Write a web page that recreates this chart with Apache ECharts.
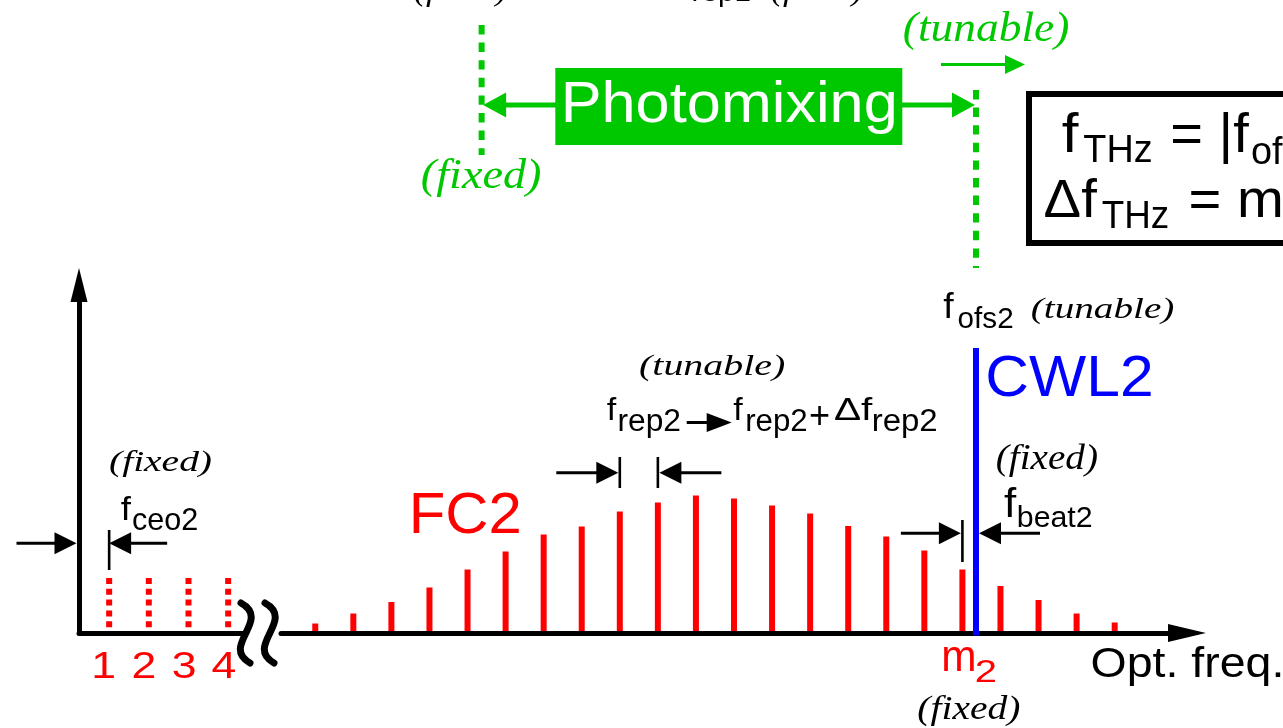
<!DOCTYPE html>
<html><head><meta charset="utf-8">
<script src="https://cdn.jsdelivr.net/npm/echarts@6/dist/echarts.min.js"></script>
<style>html,body{margin:0;padding:0;background:#fff;overflow:hidden}#c{width:1283px;height:728px}</style>
</head><body><div id="c"></div>
<script>
// ---------------- data (frequency in units of f_rep2, power in a.u.) ----------------
const lowModeLabels = ['1', '2', '3', '4'];
const lowModeFreq = [0.76, 1.76, 2.76, 3.76];          // first line sits at f_ceo2
const lowModePower = [11, 11, 11, 11];
const combModeOffset = [-17, -16, -15, -14, -13, -12, -11, -10, -9, -8, -7, -6, -5, -4, -3, -2, -1, 0, 1, 2, 3, 4]; // n - m2
const combPower = [1.9, 3.9, 6.2, 9.1, 12.7, 16.3, 19.7, 21.3, 24.3, 26.1, 27.5, 26.9, 25.5, 23.9, 21.4, 19.3, 16.5, 12.7, 9.4, 6.6, 3.9, 2.1];
const fCeo2 = 0.76;
const fBeat2 = 0.357;            // CWL2 offset from mode m2
const fOfs2 = fBeat2;            // CWL2 frequency (relative to m2)
const fOfs1 = -12.63;            // CWL1 frequency (relative to m2)
const cwl2Power = [57];
const repArrowModes = [-9, -8];
const beatArrowTargets = [0, fBeat2];
const ceoArrowTargets = [0, fCeo2];
const mainModeLabels = [{ mode: 0, text: 'm', sub: '2' }];
const lowAxisRange = [0, 4.134];
const mainAxisRange = [-17.9, 5.9];
const lowPowerRange = [0, 69.6];
const mainPowerRange = [0, 126.6];

// ---------------- styles / layout ----------------
const RED = '#ff0000', BLUE = '#0000ff', GREEN = '#00c800', BLACK = '#000000';
const SANS = "'Liberation Sans', Arial, sans-serif";
const SERIF = "'Liberation Serif', 'Times New Roman', serif";
const F_SANS = '40px ' + SANS;
const F_ITAL = 'italic 40px ' + SERIF;

const mctx = document.createElement('canvas').getContext('2d');
function ink(text, font) {
  mctx.font = font; mctx.textBaseline = 'middle'; mctx.textAlign = 'left';
  const m = mctx.measureText(text);
  return { l: m.actualBoundingBoxLeft, r: m.actualBoundingBoxRight, a: m.actualBoundingBoxAscent, d: m.actualBoundingBoxDescent };
}
function textEl(text, font, fill, x, y, sx, sy) {
  return { type: 'text', x: x, y: y, scaleX: sx, scaleY: sy, z: 100, z2: 20, silent: true,
    style: { text: text, font: font, fill: fill, align: 'left', verticalAlign: 'middle', textAlign: 'left', textVerticalAlign: 'middle' } };
}
function fitBox(text, box, font, fill) {
  const m = ink(text, font);
  const sx = (box[2] - box[0]) / (m.l + m.r), sy = (box[3] - box[1]) / (m.a + m.d);
  return textEl(text, font, fill, box[0] + m.l * sx, box[1] + m.a * sy, sx, sy);
}
function fitH(text, left, top, bottom, font, fill, aspect) {
  const m = ink(text, font);
  const sy = (bottom - top) / (m.a + m.d), sx = sy * aspect;
  return textEl(text, font, fill, left + m.l * sx, top + m.a * sy, sx, sy);
}
function fitCenter(text, cx, top, bottom, font, fill, aspect) {
  const m = ink(text, font);
  const sy = (bottom - top) / (m.a + m.d), sx = sy * aspect;
  return textEl(text, font, fill, cx - (m.r - m.l) / 2 * sx, top + m.a * sy, sx, sy);
}
function placeTop(text, left, top, font, fill, sx, sy) {
  const m = ink(text, font);
  return textEl(text, font, fill, left + m.l * sx, top + m.a * sy, sx, sy);
}
function placeBottom(text, left, bottom, font, fill, sx, sy) {
  const m = ink(text, font);
  return textEl(text, font, fill, left + m.l * sx, bottom - m.d * sy, sx, sy);
}
function vLine(x, y1, y2, color, w, dash) {
  const st = { stroke: color, lineWidth: w, lineCap: 'butt' };
  if (dash) st.lineDash = dash;
  return { type: 'line', shape: { x1: x, y1: y1, x2: x, y2: y2 }, style: st };
}
function hArrow(tip, y, dir, len, head, half, color, w) {
  const base = tip - dir * head, tail = tip - dir * len;
  return [
    { type: 'line', shape: { x1: tail, y1: y, x2: base + dir * 2, y2: y }, style: { stroke: color, lineWidth: w } },
    { type: 'polygon', shape: { points: [[tip, y], [base, y - half], [base, y + half]] }, style: { fill: color } }
  ];
}

const AXIS_Y = 633;
const dimLayout = {
  ceo: { y: 543.3, arrows: [{ dir: 1, gap: 2.5, len: 60, tick: null }, { dir: -1, gap: 0, len: 58, tick: [530, 570] }] },
  rep: { y: 472.7, arrows: [{ dir: 1, gap: 1.5, len: 62, tick: [457, 488] }, { dir: -1, gap: 1.5, len: 62, tick: [457, 488] }] },
  beat: { y: 533.3, arrows: [{ dir: 1, gap: 1.5, len: 60, tick: [520, 562] }, { dir: -1, gap: 3, len: 61, tick: null }] }
};
function dimSeries(name, targets, gi) {
  const lay = dimLayout[name];
  return {
    type: 'custom', name: name, xAxisIndex: gi, yAxisIndex: gi, z: 6, silent: true,
    data: targets.map(function (v) { return [v, 0]; }),
    renderItem: function (params, api) {
      const a = lay.arrows[params.dataIndex];
      const cx = api.coord([api.value(0), 0])[0];
      const ch = hArrow(cx - a.dir * a.gap, lay.y, a.dir, a.len, 22, 11, BLACK, 3);
      if (a.tick) ch.push(vLine(cx, a.tick[0], a.tick[1], BLACK, 2.6));
      return { type: 'group', children: ch };
    }
  };
}

const ofsLayout = [[25, 155], [90, 268]];

const series = [
  { // low-order comb lines (dotted)
    type: 'custom', name: 'FC2 low modes', xAxisIndex: 0, yAxisIndex: 0, z: 2, silent: true,
    data: lowModeFreq.map(function (f, i) { return [f, lowModePower[i]]; }),
    renderItem: function (params, api) {
      const p0 = api.coord([api.value(0), 0]), p1 = api.coord([api.value(0), api.value(1)]);
      return vLine(p0[0], p1[1], p0[1], RED, 6, [6, 4.8]);
    }
  },
  { // mode number labels
    type: 'custom', name: 'mode labels', xAxisIndex: 0, yAxisIndex: 0, z: 2, silent: true,
    data: lowModeFreq.map(function (f) { return [f, 0]; }),
    renderItem: function (params, api) {
      const cx = api.coord([api.value(0), 0])[0];
      return fitCenter(lowModeLabels[params.dataIndex], cx - 4.5, AXIS_Y + 19.7, AXIS_Y + 45.3, F_SANS, RED, 1.22);
    }
  },
  { // main comb
    type: 'custom', name: 'FC2', xAxisIndex: 1, yAxisIndex: 1, z: 2, silent: true,
    data: combModeOffset.map(function (n, i) { return [n, combPower[i]]; }),
    renderItem: function (params, api) {
      const p0 = api.coord([api.value(0), 0]), p1 = api.coord([api.value(0), api.value(1)]);
      return vLine(p0[0], p0[1], p1[1], RED, 6);
    }
  },
  { // CWL2
    type: 'custom', name: 'CWL2', xAxisIndex: 1, yAxisIndex: 1, z: 8, silent: true,
    data: cwl2Power.map(function (p) { return [fOfs2, p]; }),
    renderItem: function (params, api) {
      const p0 = api.coord([api.value(0), 0]), p1 = api.coord([api.value(0), api.value(1)]);
      return vLine(p0[0], p0[1] + 2.5, p1[1], BLUE, 6);
    }
  },
  { // offset frequencies of CW lasers (green dashed)
    type: 'custom', name: 'f_ofs', xAxisIndex: 1, yAxisIndex: 1, z: 2, silent: true,
    data: [[fOfs1, 0], [fOfs2, 0]],
    renderItem: function (params, api) {
      const cx = api.coord([api.value(0), 0])[0];
      const r = ofsLayout[params.dataIndex];
      return vLine(cx, r[0], r[1], GREEN, 6, [9.4, 8.2]);
    }
  },
  { // photomixing
    type: 'custom', name: 'Photomixing', xAxisIndex: 1, yAxisIndex: 1, z: 5, silent: true,
    data: [[fOfs1, fOfs2]],
    renderItem: function (params, api) {
      const x1 = api.coord([api.value(0), 0])[0], x2 = api.coord([api.value(1), 0])[0];
      const y = 105, cx = (x1 + x2) / 2, bw = 347, bh = 77, bx = cx - bw / 2, by = 68;
      let ch = [];
      ch = ch.concat(hArrow(x1 + 1.5, y, -1, cx - x1, 23, 12.5, GREEN, 5));
      ch = ch.concat(hArrow(x2 - 1, y, 1, x2 - cx, 23, 12.5, GREEN, 5));
      ch.push({ type: 'rect', shape: { x: bx, y: by, width: bw, height: bh }, style: { fill: GREEN }, z2: 5 });
      ch.push(fitBox('Photomixing', [bx + 10, by + 11, bx + bw - 8, by + 66], F_SANS, '#ffffff'));
      return { type: 'group', children: ch };
    }
  },
  { // tuning direction of f_ofs2
    type: 'custom', name: 'tune', xAxisIndex: 1, yAxisIndex: 1, z: 5, silent: true,
    data: [[fOfs2, 0]],
    renderItem: function (params, api) {
      const cx = api.coord([api.value(0), 0])[0];
      return { type: 'group', children: hArrow(cx + 49, 64.5, 1, 84, 20, 9.5, GREEN, 3) };
    }
  },
  { // m2 label
    type: 'custom', name: 'm2', xAxisIndex: 1, yAxisIndex: 1, z: 5, silent: true,
    data: mainModeLabels.map(function (d) { return [d.mode, 0]; }),
    renderItem: function (params, api) {
      const d = mainModeLabels[params.dataIndex];
      const x = api.coord([api.value(0), 0])[0];
      return { type: 'group', children: [
        fitBox(d.text, [x - 19.1, 646.7, x + 11.6, 670.7], F_SANS, RED),
        fitBox(d.sub, [x + 14.3, 660, x + 33.3, 681.7], F_SANS, RED)
      ] };
    }
  },
  dimSeries('ceo', ceoArrowTargets, 0),
  dimSeries('rep', repArrowModes, 1),
  dimSeries('beat', beatArrowTargets, 1)
];

// ---------------- annotations (graphic) ----------------
const g = [];
// cut-off text at the top
g.push(fitBox('(fixed)', [415, -23, 507, 7], F_ITAL, BLACK));
g.push(fitBox('rep1', [693, -19, 750, 7], F_SANS, BLACK));
g.push(fitBox('(fixed)', [772, -23, 863, 7], F_ITAL, BLACK));
// green labels
g.push(fitBox('(tunable)', [904, 10, 1069, 50], F_ITAL, GREEN));
g.push(fitBox('(fixed)', [422, 157, 541, 198], F_ITAL, GREEN));
// formula box
g.push({ type: 'rect', z: 100, silent: true, shape: { x: 1029, y: 94, width: 400, height: 149 }, style: { fill: 'none', stroke: BLACK, lineWidth: 6 } });
g.push(fitH('f', 1061.7, 110.7, 151.7, F_SANS, BLACK, 1.1));
const thz1 = fitBox('THz', [1083.3, 135, 1151.7, 161.7], F_SANS, BLACK); g.push(thz1);
const eq1 = fitBox('= |f', [1171.7, 110.7, 1250, 163.3], F_SANS, BLACK); g.push(eq1);
g.push(placeTop('ofs1 − f', 1252, 135, F_SANS, BLACK, thz1.scaleX, thz1.scaleY));
const df2 = fitBox('Δf', [1045, 176.7, 1098, 216.7], F_SANS, BLACK); g.push(df2);
g.push(fitBox('THz', [1101.7, 201.7, 1168.3, 228.3], F_SANS, BLACK));
g.push(placeBottom('= m', 1190, 216.7, F_SANS, BLACK, df2.scaleX, df2.scaleY));
// labels near the comb
g.push(fitBox('FC2', [413.3, 493.3, 520, 533.3], F_SANS, RED));
g.push(fitBox('CWL2', [988.3, 356, 1151.7, 396], F_SANS, BLUE));
g.push(fitBox('Opt. freq.', [1091.7, 645, 1280.7, 685], F_SANS, BLACK));
g.push(fitBox('(fixed)', [110, 449, 211.7, 477.5], F_ITAL, BLACK));
g.push(fitH('f', 120.7, 495, 520, F_SANS, BLACK, 1.1));
g.push(fitBox('ceo2', [132.7, 508.3, 197.3, 530], F_SANS, BLACK));
g.push(fitBox('(tunable)', [640, 353.3, 785, 381.7], F_ITAL, BLACK));
g.push(fitH('f', 606.7, 396.7, 420, F_SANS, BLACK, 1.1));
g.push(fitBox('rep2', [619, 408.3, 680, 437.3], F_SANS, BLACK));
hArrow(731.7, 422.5, 1, 45, 25, 9.5, BLACK, 3).forEach(function (e) { e.z = 100; g.push(e); });
g.push(fitH('f', 733.3, 396.7, 420, F_SANS, BLACK, 1.1));
g.push(fitBox('rep2', [746.7, 408.3, 806.7, 437.3], F_SANS, BLACK));
g.push(fitBox('+', [810, 405.5, 829, 424.5], F_SANS, BLACK));
g.push(fitBox('Δf', [835, 396.7, 873.3, 420], F_SANS, BLACK));
g.push(fitBox('rep2', [873.3, 408.3, 936.7, 437.3], F_SANS, BLACK));
g.push(fitH('f', 943.3, 292.7, 318.3, F_SANS, BLACK, 1.1));
g.push(fitBox('ofs2', [958.3, 306.5, 1012.7, 328.3], F_SANS, BLACK));
g.push(fitBox('(tunable)', [1031.7, 296.7, 1174, 325], F_ITAL, BLACK));
g.push(fitBox('(fixed)', [996.7, 443.3, 1097.7, 476.7], F_ITAL, BLACK));
g.push(fitH('f', 1004, 487.3, 517.3, F_SANS, BLACK, 1.1));
g.push(fitBox('beat2', [1018.3, 504.5, 1091.7, 527], F_SANS, BLACK));
g.push(fitBox('(fixed)', [918.3, 695, 1020, 726.7], F_ITAL, BLACK));
// axis break marks
[0, 24].forEach(function (dx) {
  g.push({ type: 'bezierCurve', z: 100, silent: true,
    shape: { x1: 241 + dx, y1: 603, cpx1: 272 + dx, cpy1: 620, cpx2: 220 + dx, cpy2: 646, x2: 250 + dx, y2: 663 },
    style: { stroke: BLACK, lineWidth: 7, lineCap: 'round', fill: null } });
});

const axisBase = { axisTick: { show: false }, axisLabel: { show: false }, splitLine: { show: false } };
const option = {
  animation: false,
  backgroundColor: '#ffffff',
  grid: [
    { left: 79, top: 285, width: 164, height: 348, outerBoundsMode: 'none', containLabel: false },
    { left: 281, top: 0, width: 906, height: 633, outerBoundsMode: 'none', containLabel: false }
  ],
  xAxis: [
    Object.assign({ type: 'value', gridIndex: 0, min: lowAxisRange[0], max: lowAxisRange[1], z: 4,
      axisLine: { show: true, onZero: false, symbol: ['none', 'none'], lineStyle: { color: BLACK, width: 5 } } }, axisBase),
    Object.assign({ type: 'value', gridIndex: 1, min: mainAxisRange[0], max: mainAxisRange[1], z: 4,
      axisLine: { show: true, onZero: false, symbol: ['none', 'triangle'], symbolSize: [18, 38], lineStyle: { color: BLACK, width: 5 } } }, axisBase)
  ],
  yAxis: [
    Object.assign({ type: 'value', gridIndex: 0, min: lowPowerRange[0], max: lowPowerRange[1], z: 4,
      axisLine: { show: true, onZero: false, symbol: ['none', 'triangle'], symbolSize: [17, 34], lineStyle: { color: BLACK, width: 5 } } }, axisBase),
    Object.assign({ type: 'value', gridIndex: 1, min: mainPowerRange[0], max: mainPowerRange[1], show: false }, axisBase)
  ],
  series: series,
  graphic: { elements: g }
};
const chart = echarts.init(document.getElementById('c'), null, { renderer: 'canvas' });
chart.setOption(option);
</script>
</body></html>
